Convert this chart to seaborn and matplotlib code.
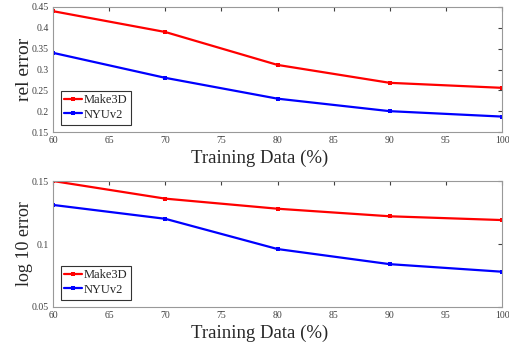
import pandas as pd
import matplotlib.pyplot as plt
import seaborn as sns

# Values.
training_data = [60, 70, 80, 90, 100]
rel_make3d = [0.44, 0.39, 0.311, 0.268, 0.256]
rel_nyuv2 = [0.34, 0.28, 0.23, 0.20, 0.187]
log10_make3d = [0.150, 0.136, 0.128, 0.122, 0.119]
log10_nyuv2 = [0.131, 0.120, 0.096, 0.084, 0.078]

rel_df = pd.DataFrame({
    "Training": training_data * 2,
    "Error": rel_make3d + rel_nyuv2,
    "Dataset": ["Make3D"] * 5 + ["NYUv2"] * 5,
})
log_df = pd.DataFrame({
    "Training": training_data * 2,
    "Error": log10_make3d + log10_nyuv2,
    "Dataset": ["Make3D"] * 5 + ["NYUv2"] * 5,
})

sns.set_style("white")
plt.rcParams["font.family"] = ["Liberation Serif", "DejaVu Serif"]

fig = plt.figure(figsize=(5.1, 3.45), dpi=100)
ax1 = fig.add_axes([53 / 510, 1 - 132 / 345, 449 / 510, 125 / 345])
ax2 = fig.add_axes([53 / 510, 1 - 307 / 345, 449 / 510, 126 / 345])

palette = {"Make3D": "#ff0000", "NYUv2": "#0000ff"}


def style_axes(ax, ylim, yticks, ylabel, ysize):
    ax.set_xlim(60, 100)
    ax.set_ylim(*ylim)
    ax.set_xticks([60, 65, 70, 75, 80, 85, 90, 95, 100])
    ax.set_yticks(yticks)
    ax.set_yticklabels([f"{t:g}" for t in yticks])
    ax.tick_params(direction="in", length=3, labelsize=7, colors="#404040",
                   top=True, right=True, pad=3)
    for sp in ax.spines.values():
        sp.set_color("#999999")
        sp.set_linewidth(0.8)
    ax.set_xlabel("Training Data (%)", fontsize=13.5)
    ax.xaxis.set_label_coords(0.461, -0.14)
    ax.set_ylabel(ylabel, fontsize=ysize, labelpad=-1)
    leg = ax.legend(loc="lower left", fontsize=9, frameon=True, fancybox=False,
                    handlelength=1.4, borderpad=0.3, labelspacing=0.2,
                    handletextpad=0.15, borderaxespad=0.6)
    leg.get_frame().set_edgecolor("black")
    leg.get_frame().set_linewidth(0.8)


sns.lineplot(data=rel_df, x="Training", y="Error", hue="Dataset", palette=palette,
             marker="s", markersize=3.5, markeredgewidth=0, linewidth=1.6, ax=ax1)
style_axes(ax1, (0.15, 0.45), [0.15, 0.2, 0.25, 0.3, 0.35, 0.4, 0.45], "rel error", 14)

sns.lineplot(data=log_df, x="Training", y="Error", hue="Dataset", palette=palette,
             marker="s", markersize=3.5, markeredgewidth=0, linewidth=1.6, ax=ax2)
style_axes(ax2, (0.05, 0.15), [0.05, 0.1, 0.15], "log 10 error", 13)

fig.savefig("out.png", dpi=100)
